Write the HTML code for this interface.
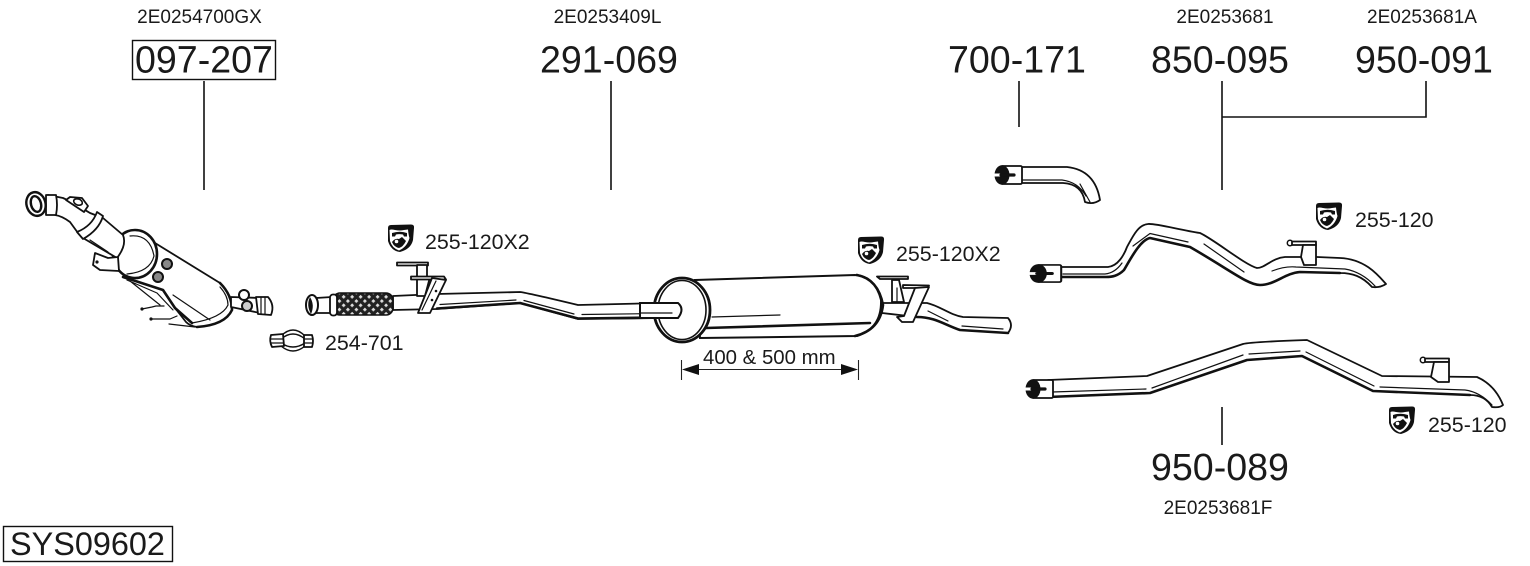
<!DOCTYPE html>
<html><head><meta charset="utf-8"><style>
html,body{margin:0;padding:0;background:#fff}
svg{display:block}
text{font-family:"Liberation Sans",Arial,sans-serif;fill:#1a1a1a}
.b{font-size:37.6px}.s{font-size:19px}.m{font-size:21.4px}
.l{stroke:#111;stroke-width:1.6;fill:none}
.d{fill:none;stroke:#111;stroke-width:1.2;stroke-linecap:round;stroke-linejoin:round}
.h{fill:none;stroke:#111;stroke-width:2.6;stroke-linecap:round;stroke-linejoin:round}
.f{fill:#fff;stroke:#111;stroke-width:1.8;stroke-linejoin:round}
</style></head><body>
<svg xmlns="http://www.w3.org/2000/svg" width="1530" height="566" viewBox="0 0 1530 566">
<defs>
<pattern id="mesh" width="6" height="6" patternUnits="userSpaceOnUse" patternTransform="rotate(45 0 0)">
<rect width="6" height="6" fill="#222"/><rect x="1.5" y="1.5" width="2.8" height="2.8" fill="#ddd"/>
</pattern>
<g id="hanger">
<path d="M1,3 Q1,0 4,0 L24,-0.5 Q27.500,-0.5 27,3 L26,15 Q24,24 13,27 Q4,26 1,16Z" fill="#111"/>
<path d="M2.500,5 Q4,4 8,5 Q13,6 17,5 L21,4.500 Q21.500,10 22.500,13 Q20,22 12,25.500 Q5,23 3,16Z" fill="#fff"/>
<path d="M5,8 Q13,5.500 20,8 L20,11.500 L17,11.500 L16,9.500 Q12,8.800 9,9.500 L8,11.500 L5,11.500Z" fill="#111"/>
<path d="M5,17 Q8,13 12,14 L15,12 L19,16 Q16,22 12,23 Q7,22 5,17Z" fill="#111"/>
<circle cx="9.500" cy="16.500" r="1.800" fill="#fff"/>
</g>
<g id="cap">
<rect x="7" y="1" width="21" height="18" rx="1.500" fill="#fff" stroke="#111" stroke-width="1.800"/>
<ellipse cx="8" cy="10" rx="7.500" ry="9.800" fill="#111"/>
<path d="M0,8.500 H14 V11.500 H0Z" fill="#fff"/>
<path d="M7,10 H20" stroke="#111" stroke-width="3.200" stroke-linecap="round"/>
</g>
</defs>
<rect width="1530" height="566" fill="#fff"/>

<!-- leader lines -->
<path class="l" d="M204,81V190M611,81V190M1019,81V127M1222,81V190M1222,117H1426V81M1222,407V445"/>
<rect x="132.500" y="40.500" width="143" height="39" fill="none" stroke="#111" stroke-width="1.400"/>
<rect x="3.500" y="526.500" width="169" height="35" fill="none" stroke="#111" stroke-width="1.400"/>

<!-- labels -->
<text class="s" x="199.500" y="23" text-anchor="middle">2E0254700GX</text>
<text class="s" x="607.500" y="23" text-anchor="middle">2E0253409L</text>
<text class="s" x="1225" y="23" text-anchor="middle">2E0253681</text>
<text class="s" x="1422" y="23" text-anchor="middle">2E0253681A</text>
<text class="s" x="1218" y="514" text-anchor="middle">2E0253681F</text>
<text class="b" x="135" y="72.500">097-207</text>
<text class="b" x="540" y="72.500">291-069</text>
<text class="b" x="948" y="72.500">700-171</text>
<text class="b" x="1151" y="72.500">850-095</text>
<text class="b" x="1355" y="72.500">950-091</text>
<text class="b" x="1151" y="480">950-089</text>
<text x="10" y="555" font-size="32.400">SYS09602</text>
<text class="m" x="425" y="249">255-120X2</text>
<text class="m" x="896" y="261">255-120X2</text>
<text class="m" x="1355" y="227">255-120</text>
<text class="m" x="1428" y="432">255-120</text>
<text class="m" x="325" y="350">254-701</text>
<text x="703" y="364" font-size="20.400">400 &amp; 500 mm</text>

<use href="#hanger" x="387" y="225"/>
<use href="#hanger" x="857" y="237"/>
<use href="#hanger" x="1315" y="203"/>
<use href="#hanger" x="1388" y="407"/>

<!-- dimension arrow -->
<path d="M681.500,360V380M858.500,360V380M690,369.500H850" stroke="#222" stroke-width="1.100" fill="none"/>
<path d="M682,369.500L699,364V375ZM858,369.500L841,364V375Z" fill="#111"/>

<!-- DPF -->
<g>
<path class="f" d="M155,243 L220,283 Q232,295 232,310 Q225,325 197,327 Q190,326 186,322 L175,308 L163,290 L123,277Z"/>
<path class="h" d="M220,283 Q232,295 232,310 Q225,325 197,327"/>
<path class="d" stroke-width="1.600" d="M220,287 Q228,296 228,305 Q222,318 192,323"/>
<path class="d" d="M173,295 L210,320"/>
<path class="h" d="M123,277 L163,290 L175,308 L192,323"/>
<path class="d" stroke-width="1.600" d="M127,280 L157,293 L173,310 M130,281 L160,305"/>
<path class="d" stroke-width="1.600" d="M142,309 L152,307 L156,306 H164 M151,319 L170,319 L177,316 M169,324 L195,327"/>
<circle cx="142" cy="309" r="1.600" fill="#111"/><circle cx="151" cy="319" r="1.600" fill="#111"/>
<circle cx="167" cy="264" r="5" fill="#888" stroke="#111" stroke-width="2"/>
<circle cx="158" cy="277" r="5" fill="#888" stroke="#111" stroke-width="2"/>
<ellipse cx="135" cy="254" rx="22" ry="24" fill="#fff" stroke="#111" stroke-width="2.600"/>
<path class="d" stroke-width="1.400" d="M130,236 Q150,234 154,256 Q150,272 127,274"/>
<path class="f" d="M48,195 L63,198 Q72,202 90,213 L103,218 L123,235 Q127,245 117,258 L83,238 L78,233 L70,222 Q62,216 55,215Z" stroke-width="2"/>
<path class="f" d="M77,232 Q92,226 97,212 L103,216 Q99,230 83,239Z" stroke-width="2"/>
<path class="d" d="M90,240 L108,252"/>
<path class="f" d="M66,200 L70,197 L82,198 L88,206 L84,212Z"/>
<ellipse cx="78" cy="202" rx="4.500" ry="3" fill="#fff" stroke="#111" stroke-width="1.600" transform="rotate(20 78 202)"/>
<path class="f" d="M46,195 L56,195 Q58,205 56,215 L46,215Z" stroke-width="2"/>
<ellipse cx="36" cy="204" rx="9.500" ry="12" fill="#fff" stroke="#111" stroke-width="2.400" transform="rotate(-15 36 204)"/>
<ellipse cx="36" cy="204" rx="5" ry="8" fill="#fff" stroke="#111" stroke-width="2.400" transform="rotate(-15 36 204)"/>
<path class="f" d="M95,253 L108,258 L118,257 L119,271 L100,270 L93,265Z"/>
<circle cx="97" cy="262" r="1.600" fill="#111"/>
<path class="f" d="M231,297 L260,298 L260,313 L231,307Z"/>
<path class="f" d="M256,297 L268,297 Q275,305 271,315 L258,314Z" stroke-width="2"/>
<path class="d" d="M261,297 V314 M265,297 V314"/>
<circle cx="244" cy="295" r="5" fill="#fff" stroke="#111" stroke-width="2"/>
<circle cx="247" cy="306" r="5" fill="#ccc" stroke="#111" stroke-width="2"/>
</g>

<!-- Clamp -->
<g>
<path d="M281,336 Q293,324 305,336" fill="none" stroke="#111" stroke-width="1.400"/>
<path d="M281,339 Q293,329 305,339" fill="none" stroke="#111" stroke-width="1.400"/>
<path d="M281,346 Q293,356 305,346" fill="none" stroke="#111" stroke-width="1.400"/>
<path d="M281,343 Q293,351 305,343" fill="none" stroke="#111" stroke-width="1.400"/>
<path class="f" stroke-width="1.400" d="M271,335 L283,334 L284,346 L272,347 Q269,341 271,335Z"/>
<path class="d" d="M271,339 H283 M271,343 H283"/>
<path class="f" stroke-width="1.400" d="M304,335 L312,335 Q314,341 312,347 L304,347Z"/>
<path class="d" d="M304,339 H313 M304,343 H313"/>
</g>

<!-- Front pipe -->
<g>
<path class="f" d="M393,296 L437,294 L520,292 Q528,293 578,305 L662,303 L662,318 L578,319 L520,303 L437,309 L393,310Z"/>
<path class="h" d="M437,308.500 L520,303 L578,318.500 L662,317.500"/>
<path class="d" d="M440,304.500 L516,300 M524,300.500 L574,314 M582,314.500 L660,313.500"/>
<rect x="333" y="293" width="60" height="22" rx="7" fill="url(#mesh)" stroke="#111" stroke-width="1.500"/>
<path class="f" d="M316,298 L332,297 L332,313 L316,313Z"/>
<rect x="330" y="294.500" width="7" height="21" rx="3" fill="#fff" stroke="#111" stroke-width="1.800"/>
<ellipse cx="312" cy="305" rx="6" ry="10" fill="#fff" stroke="#111" stroke-width="2"/>
<path d="M310,297 Q306,305 311,314 Q315,305 310,297Z" fill="#111"/>
<path class="f" d="M397,262.500 H428 V265.500 H397Z"/>
<path class="f" d="M417,265 H427 V277 H430 L425,296 L417,296Z"/>
<path class="f" d="M411,276.500 H444 L446,279.500 H411Z"/>
<path class="f" d="M432,278 L446,280 L430,313 L418,313Z" stroke-width="2"/>
<path class="d" d="M436,281 L422,310"/>
<circle cx="436" cy="291" r="1.300" fill="#111"/><circle cx="432" cy="300" r="1.300" fill="#111"/>
</g>

<!-- Muffler -->
<g>
<path class="f" d="M882,303 L927,303 C940,306 950,315 963,317 L1008,318 Q1014,325 1008,333 L960,330 C945,325 935,317 917,317 L882,313Z"/>
<path class="h" d="M917,317 C935,317 945,325 960,330 L1008,333"/>
<path class="d" d="M928,311 L948,321 M962,326 L1003,329"/>
<path d="M695,280 L855,275 Q875,276 881,300 Q882,328 857,336 L700,338Z" fill="#fff" stroke="#111" stroke-width="2"/>
<path class="h" d="M857,275 Q878,279 883,305 Q880,330 855,336"/>
<path class="h" stroke-width="2" d="M706,328 L870,323"/>
<path class="d" d="M712,317 L780,315"/>
<ellipse cx="682" cy="310" rx="28" ry="32" fill="#fff" stroke="#111" stroke-width="2.800"/>
<ellipse cx="682" cy="310" rx="24" ry="29.500" fill="#fff" stroke="#111" stroke-width="1.600"/>
<path d="M640,303 H678 Q685,309 678,318 H640Z" fill="#fff" stroke="#111" stroke-width="2"/>
<path class="d" d="M640,313 H672"/>
<path class="f" d="M877,276.500 L908,276.500 V279 H880Z"/>
<path class="f" d="M892,280 H899 L904,302 H892Z"/>
<path class="f" d="M903,285 L929,285.500 L927,288 L903,288Z"/>
<path class="f" d="M915,288 L929,287 L913,322 L902,322 L897,317 L904,316Z" stroke-width="2"/>
<path class="d" d="M897,288 V302"/>
</g>

<!-- 700-171 -->
<g>
<path class="f" d="M1020,167 L1067,167 Q1095,170 1100,200 Q1093,205 1085,202 Q1082,184 1063,183 L1020,183Z"/>
<path class="d" d="M1023,180 L1062,180 Q1078,182 1086,196 M1080,184 L1090,202"/>
<use href="#cap" x="994" y="165"/>
</g>

<!-- 850-095 -->
<g>
<path class="f" d="M1060,267 L1108,267 C1118,266 1124,255 1127,247 C1133,236 1138,225 1148,224 C1155,223 1180,230 1200,233 C1215,240 1245,265 1257,268 C1265,268 1272,258 1285,257 L1317,257 L1340,258 C1365,259 1378,275 1386,284 Q1380,288 1372,287 C1362,276 1352,273 1340,273 L1300,272 C1285,273 1275,285 1260,285 C1248,285 1230,270 1190,247 L1150,238 C1140,240 1130,260 1124,270 C1118,276 1112,277 1106,277 L1060,277Z"/>
<path class="h" d="M1060,277 L1106,277 C1112,277 1118,276 1124,270 C1130,260 1140,240 1150,238 L1190,247 C1230,270 1248,285 1260,285 C1275,285 1285,273 1300,272 L1340,273"/>
<path class="d" d="M1063,274 H1105 Q1115,273 1122,263 M1133,246 L1150,233.500 L1188,242 M1204,244 L1244,272 M1272,271 Q1285,266 1296,267 L1345,269 Q1362,272 1375,286"/>
<use href="#cap" transform="translate(1029,264) scale(1.150,0.950)"/>
<circle cx="1290" cy="243" r="2.700" fill="#fff" stroke="#111" stroke-width="1.500"/>
<path class="f" d="M1292,241.500 H1316 V245 H1292Z"/>
<path class="f" d="M1303,245 H1316 V265 H1304 L1301,257Z"/>
</g>

<!-- 950-089 -->
<g>
<path class="f" d="M1048,380 L1147,376 L1243,344 Q1250,342 1307,340 L1382,376 L1477,377 Q1495,385 1503,405 Q1500,408 1492,407 Q1485,395 1470,395 L1373,391 L1302,356 L1247,360 L1150,393 L1048,397Z"/>
<path class="h" d="M1048,397 L1150,393 L1247,360 L1302,356 L1373,391 L1470,395"/>
<path class="d" d="M1052,392 L1146,389 M1152,388 L1243,355 M1249,354 L1300,351 M1306,352 L1374,386 M1380,387 L1465,390 Q1480,392 1492,405"/>
<use href="#cap" x="1025" y="379"/>
<circle cx="1423" cy="360" r="2.700" fill="#fff" stroke="#111" stroke-width="1.500"/>
<path class="f" d="M1425,358.500 H1449 V362 H1425Z"/>
<path class="f" d="M1434,362 H1449 V382 H1438 L1431,377Z"/>
</g>
</svg>
</body></html>
